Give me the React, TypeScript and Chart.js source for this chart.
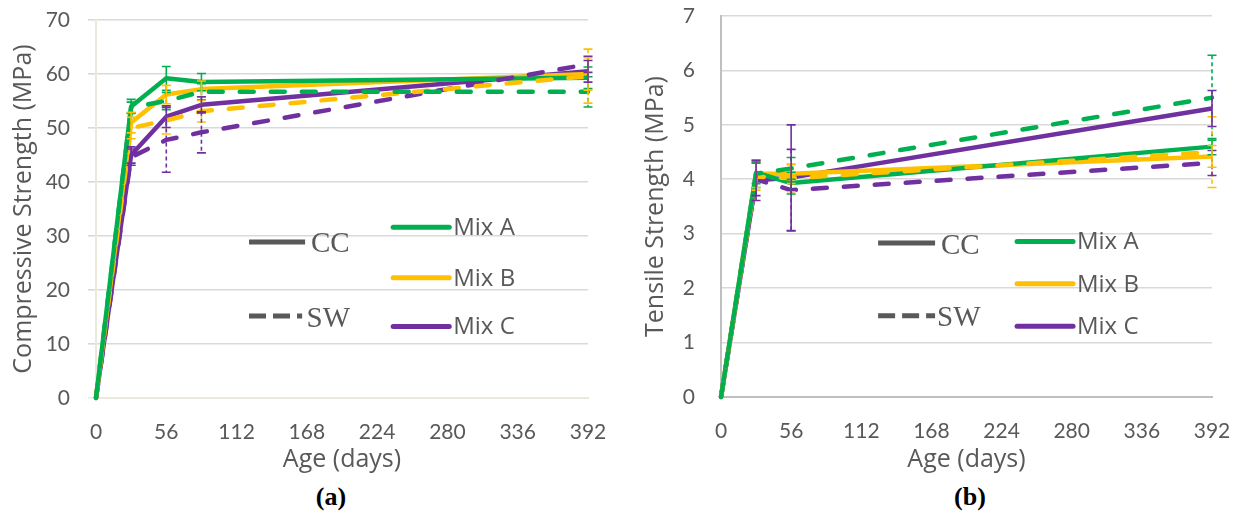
import React, { useEffect, useRef } from "react";
import { Chart, registerables } from "chart.js";

Chart.register(...registerables);

// ---------- data ----------
const ageTicks = [0, 56, 112, 168, 224, 280, 336, 392];

// (a) Compressive strength
const agesA = [0, 28, 56, 84, 392];
const compMixA_CC = [0, 54.0, 59.2, 58.5, 59.3];
const compMixA_SW = [0, 53.8, 55.0, 56.7, 56.7];
const compMixB_CC = [0, 51.0, 56.2, 57.2, 60.0];
const compMixB_SW = [0, 50.0, 51.4, 53.1, 59.6];
const compMixC_CC = [0, 45.0, 52.1, 54.3, 60.5];
const compMixC_SW = [0, 44.6, 47.8, 49.2, 61.8];
const compErrA_CC = [0, 1.3, 2.2, 1.6, 2.0];
const compErrA_SW = [0, 1.0, 1.6, 1.5, 2.8];
const compErrB_CC = [0, 1.9, 1.7, 1.5, 3.0];
const compErrB_SW = [0, 2.0, 2.5, 2.0, 5.0];
const compErrC_CC = [0, 1.5, 2.0, 1.5, 2.0];
const compErrC_SW = [0, 1.5, 6.0, 3.8, 1.5];

// (b) Tensile strength
const agesB = [0, 28, 56, 392];
const tensMixA_CC = [0, 4.12, 3.93, 4.6];
const tensMixA_SW = [0, 4.1, 4.2, 5.5];
const tensMixB_CC = [0, 4.1, 4.1, 4.42];
const tensMixB_SW = [0, 4.05, 4.02, 4.5];
const tensMixC_CC = [0, 3.98, 4.03, 5.3];
const tensMixC_SW = [0, 4.0, 3.8, 4.3];
const tensErrA_CC = [0, 0.2, 0.2, 0.15];
const tensErrA_SW = [0, 0.25, 0.2, 0.78];
const tensErrB_CC = [0, 0.25, 0.18, 0.2];
const tensErrB_SW = [0, 0.25, 0.25, 0.65];
const tensErrC_CC = [0, 0.37, 0.97, 0.33];
const tensErrC_SW = [0, 0.3, 0.75, 0.23];

const mixNames = ["Mix A", "Mix B", "Mix C"];
const curingNames = ["CC", "SW"];

// ---------- styles ----------
const GREEN = "#00b050";
const YELLOW = "#ffc000";
const PURPLE = "#7030a0";
const GRAY = "#595959";
const FONT = "Lato, 'Open Sans', sans-serif";
const TITLE_FONT = "'Open Sans', Lato, sans-serif";
const SERIF = "'Liberation Serif', 'Times New Roman', serif";

function makeDatasets(ages: number[], series: { v: number[]; e: number[]; c: string; dashed: boolean }[]) {
  return series.map((s, k) => ({
    label: "s" + k,
    data: ages.map((a, i) => ({ x: a, y: s.v[i] })),
    errors: s.e,
    borderColor: s.c,
    backgroundColor: s.c,
    borderWidth: 4.5,
    borderDash: s.dashed ? [14, 17] : [],
    borderCapStyle: s.dashed ? "round" : "butt",
    borderJoinStyle: "round",
    showLine: true,
    pointRadius: 0,
    tension: 0,
    clip: false,
    fill: false,
  }));
}

const errorBarPlugin = {
  id: "errorBars",
  afterDatasetsDraw(chart: any) {
    const { ctx } = chart;
    const x = chart.scales.x;
    const y = chart.scales.y;
    chart.data.datasets.forEach((ds: any) => {
      if (!ds.errors) return;
      const dashed = ds.borderDash && ds.borderDash.length > 0;
      ctx.save();
      ctx.strokeStyle = ds.borderColor;
      ctx.lineWidth = 1.6;
      ds.data.forEach((pt: any, i: number) => {
        const e = ds.errors[i];
        if (!e) return;
        const px = x.getPixelForValue(pt.x);
        const top = y.getPixelForValue(pt.y + e);
        const bot = y.getPixelForValue(pt.y - e);
        ctx.setLineDash(dashed ? [4, 3] : []);
        ctx.beginPath();
        ctx.moveTo(px, top);
        ctx.lineTo(px, bot);
        ctx.stroke();
        ctx.setLineDash([]);
        ctx.beginPath();
        ctx.moveTo(px - 4.5, top);
        ctx.lineTo(px + 4.5, top);
        ctx.moveTo(px - 4.5, bot);
        ctx.lineTo(px + 4.5, bot);
        ctx.stroke();
      });
      ctx.restore();
    });
  },
};

const legendPlugin = {
  id: "customLegend",
  afterDraw(chart: any, _args: any, opts: any) {
    const { ctx, chartArea: ca } = chart;
    const W = ca.right - ca.left;
    const H = ca.bottom - ca.top;
    const X = (f: number) => ca.left + f * W;
    const Y = (f: number) => ca.top + f * H;
    ctx.save();
    opts.curing.forEach((c: any, i: number) => {
      ctx.strokeStyle = GRAY;
      ctx.lineWidth = 5;
      ctx.lineCap = "butt";
      ctx.setLineDash(i === 1 ? [17, 7] : []);
      ctx.beginPath();
      ctx.moveTo(X(c.x0), Y(c.y));
      ctx.lineTo(X(c.x1), Y(c.y));
      ctx.stroke();
      ctx.setLineDash([]);
      ctx.fillStyle = GRAY;
      ctx.font = "29px " + SERIF;
      ctx.textBaseline = "middle";
      ctx.textAlign = "left";
      ctx.fillText(curingNames[i], X(c.tx), Y(c.y) + 3);
    });
    const colors = [GREEN, YELLOW, PURPLE];
    opts.mix.ys.forEach((yf: number, i: number) => {
      ctx.strokeStyle = colors[i];
      ctx.lineWidth = 5;
      ctx.lineCap = "round";
      ctx.beginPath();
      ctx.moveTo(X(opts.mix.x0), Y(yf));
      ctx.lineTo(X(opts.mix.x1), Y(yf));
      ctx.stroke();
      ctx.fillStyle = GRAY;
      ctx.font = "24px " + TITLE_FONT;
      ctx.textBaseline = "middle";
      ctx.textAlign = "left";
      ctx.fillText(mixNames[i], X(opts.mix.tx), Y(yf) + 1);
    });
    ctx.restore();
  },
};

type PanelProps = {
  left: number;
  width: number;
  height: number;
  ages: number[];
  series: { v: number[]; e: number[]; c: string; dashed: boolean }[];
  yMax: number;
  yStep: number;
  yTitle: string;
  padTop: number;
  padRight: number;
  yWidth: number;
  xHeight: number;
  drawYTicks: boolean;
  yTickPad: number;
  yTitlePad: number;
  axisColor: string;
  legend: any;
};

function clearPadding(s: any) {
  s.paddingTop = 0;
  s.paddingBottom = 0;
  s.paddingLeft = 0;
  s.paddingRight = 0;
}

function Panel(p: PanelProps) {
  const ref = useRef<HTMLCanvasElement>(null);
  useEffect(() => {
    if (!ref.current) return;
    const chart = new Chart(ref.current, {
      type: "scatter",
      data: { datasets: makeDatasets(p.ages, p.series) as any },
      plugins: [errorBarPlugin, legendPlugin],
      options: {
        animation: false,
        responsive: false,
        layout: { padding: { top: p.padTop, right: p.padRight, left: 0, bottom: 0 } },
        plugins: {
          legend: { display: false },
          tooltip: { enabled: false },
          customLegend: p.legend,
        } as any,
        scales: {
          x: {
            type: "linear",
            min: 0,
            max: 392,
            afterBuildTicks: (s: any) => {
              s.ticks = ageTicks.map((v) => ({ value: v }));
            },
            afterFit: (s: any) => {
              s.height = p.xHeight;
              clearPadding(s);
            },
            grid: { display: false, drawTicks: false },
            border: { display: true, color: p.axisColor, width: 2 },
            ticks: { color: GRAY, font: { family: FONT, size: 21 }, padding: 22, maxRotation: 0, autoSkip: false },
            title: {
              display: true,
              text: "Age (days)",
              color: GRAY,
              font: { family: TITLE_FONT, size: 25 },
              padding: { top: 0, bottom: 0 },
            },
          },
          y: {
            type: "linear",
            min: 0,
            max: p.yMax,
            ticks: { stepSize: p.yStep, color: GRAY, font: { family: FONT, size: 21 }, padding: p.yTickPad },
            afterFit: (s: any) => {
              s.width = p.yWidth;
              clearPadding(s);
            },
            grid: {
              color: (c: any) => (c.tick && c.tick.value === 0 ? p.axisColor : "#d9d9d9"),
              lineWidth: 1.6,
              drawTicks: p.drawYTicks,
              tickLength: 8,
            },
            border: { display: true, color: p.axisColor, width: 2 },
            title: {
              display: true,
              text: p.yTitle,
              color: GRAY,
              font: { family: TITLE_FONT, size: 25 },
              padding: { top: p.yTitlePad, bottom: 0 },
            },
          },
        },
      } as any,
    });
    return () => chart.destroy();
  }, []);
  return (
    <canvas
      ref={ref}
      width={p.width}
      height={p.height}
      style={{ position: "absolute", left: p.left, top: 0, width: p.width, height: p.height }}
    />
  );
}

export default function App() {
  const seriesA = [
    { v: compMixA_SW, e: compErrA_SW, c: GREEN, dashed: true },
    { v: compMixB_SW, e: compErrB_SW, c: YELLOW, dashed: true },
    { v: compMixC_SW, e: compErrC_SW, c: PURPLE, dashed: true },
    { v: compMixA_CC, e: compErrA_CC, c: GREEN, dashed: false },
    { v: compMixB_CC, e: compErrB_CC, c: YELLOW, dashed: false },
    { v: compMixC_CC, e: compErrC_CC, c: PURPLE, dashed: false },
  ];
  const seriesB = [
    { v: tensMixA_SW, e: tensErrA_SW, c: GREEN, dashed: true },
    { v: tensMixB_SW, e: tensErrB_SW, c: YELLOW, dashed: true },
    { v: tensMixC_SW, e: tensErrC_SW, c: PURPLE, dashed: true },
    { v: tensMixA_CC, e: tensErrA_CC, c: GREEN, dashed: false },
    { v: tensMixB_CC, e: tensErrB_CC, c: YELLOW, dashed: false },
    { v: tensMixC_CC, e: tensErrC_CC, c: PURPLE, dashed: false },
  ];
  const labelStyle: React.CSSProperties = {
    position: "absolute",
    top: 482,
    width: 80,
    textAlign: "center",
    fontFamily: SERIF,
    fontWeight: "bold",
    fontSize: 26,
    lineHeight: "30px",
    color: "#000",
  };
  return (
    <div style={{ position: "fixed", left: 0, top: 0, width: 1241, height: 518, background: "#fff", overflow: "hidden" }}>
      <Panel
        left={0}
        width={620}
        height={475}
        ages={agesA}
        series={seriesA}
        yMax={70}
        yStep={10}
        yTitle="Compressive Strength (MPa)"
        padTop={20}
        padRight={32}
        yWidth={96}
        xHeight={77}
        drawYTicks={true}
        yTickPad={18}
        yTitlePad={9}
        axisColor="#ece9dc"
        legend={{
          curing: [
            { x0: 0.311, x1: 0.425, y: 0.587, tx: 0.437 },
            { x0: 0.311, x1: 0.419, y: 0.783, tx: 0.428 },
          ],
          mix: { x0: 0.604, x1: 0.718, tx: 0.726, ys: [0.548, 0.682, 0.811] },
        }}
      />
      <Panel
        left={620}
        width={621}
        height={475}
        ages={agesB}
        series={seriesB}
        yMax={7}
        yStep={1}
        yTitle="Tensile Strength (MPa)"
        padTop={16}
        padRight={29}
        yWidth={101}
        xHeight={78}
        drawYTicks={false}
        yTickPad={26}
        yTitlePad={21}
        axisColor="#bfbfbf"
        legend={{
          curing: [
            { x0: 0.32, x1: 0.436, y: 0.596, tx: 0.448 },
            { x0: 0.32, x1: 0.436, y: 0.787, tx: 0.44 },
          ],
          mix: { x0: 0.603, x1: 0.717, tx: 0.725, ys: [0.592, 0.703, 0.814] },
        }}
      />
      <div style={{ ...labelStyle, left: 331 - 40 }}>(a)</div>
      <div style={{ ...labelStyle, left: 970 - 40 }}>(b)</div>
    </div>
  );
}
